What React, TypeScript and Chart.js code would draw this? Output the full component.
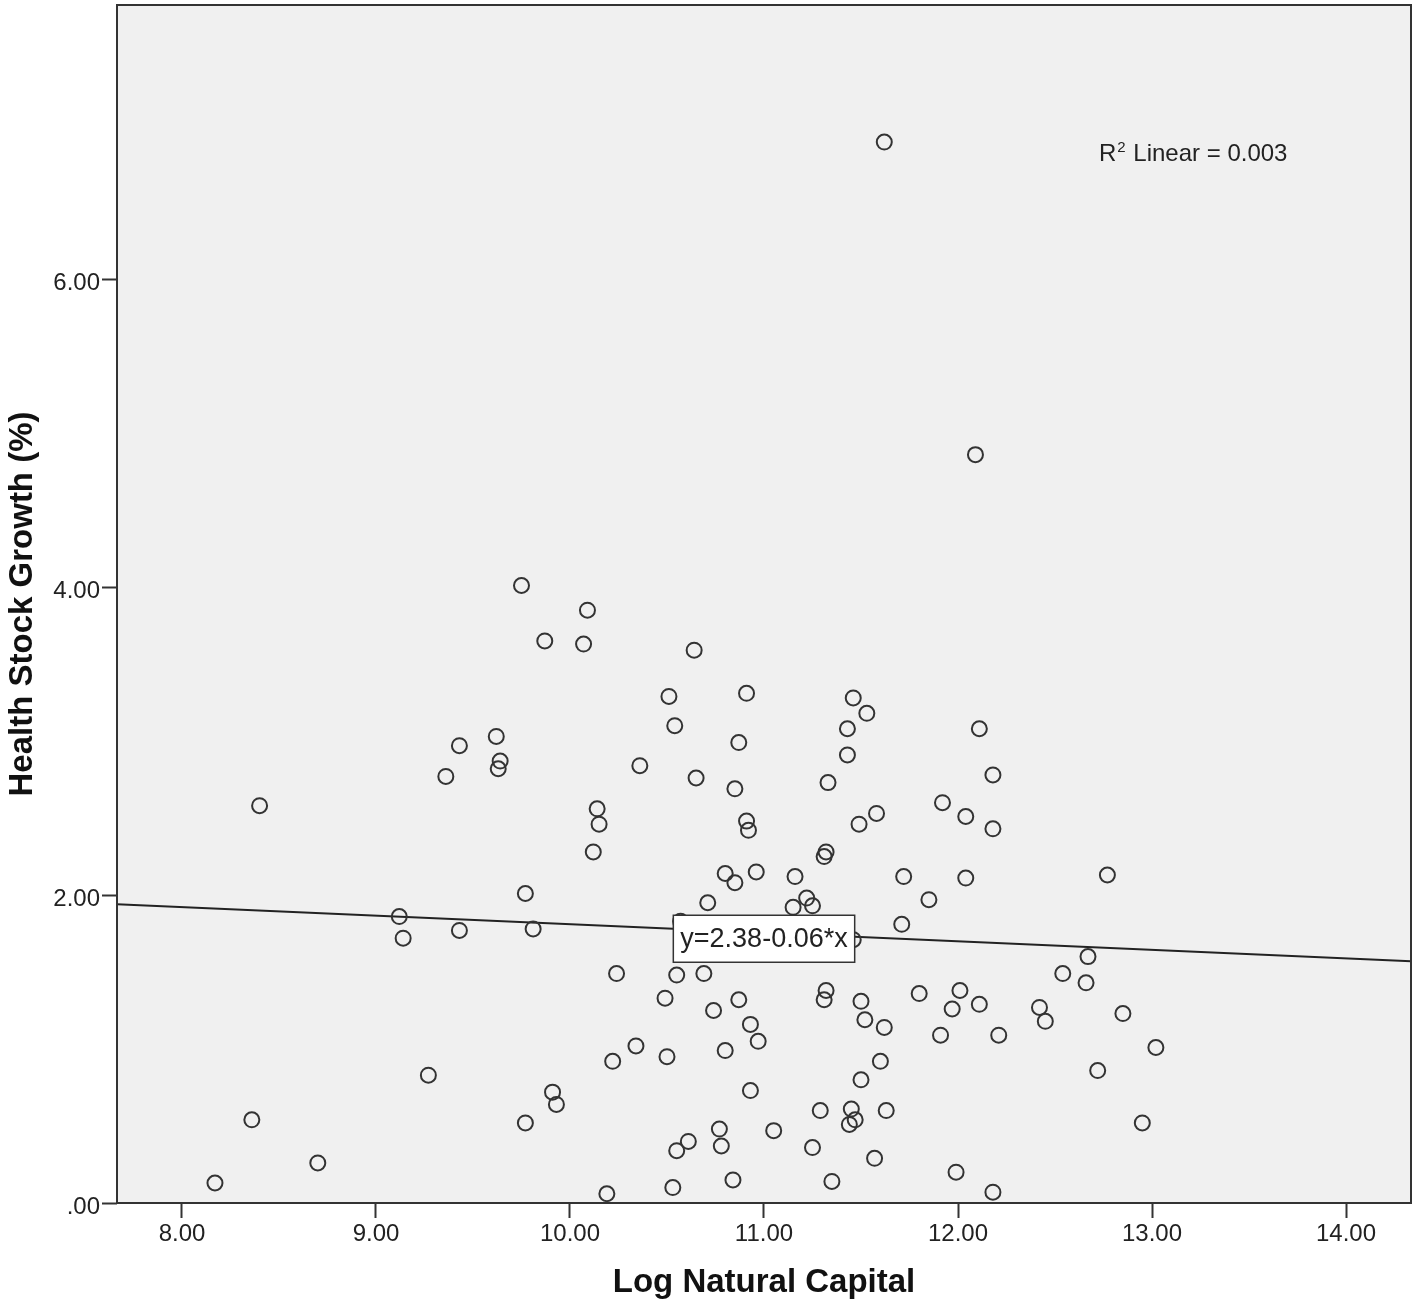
import React, { useEffect, useRef } from "react";
import { Chart, registerables } from "chart.js";

Chart.register(...registerables);

const logNaturalCapital = [
  11.62, 12.09, 9.75, 10.09, 9.87, 10.07, 10.64, 10.51, 10.91, 11.46,
  11.53, 10.54, 11.43, 12.11, 9.62, 9.43, 10.87, 9.64, 9.63, 11.43,
  10.36, 9.36, 10.65, 11.33, 12.18, 10.85, 8.4, 11.92, 10.14, 11.58,
  12.04, 10.91, 11.49, 10.15, 10.92, 12.18, 10.12, 11.32, 11.31, 10.8,
  10.96, 11.16, 11.72, 12.04, 12.77, 10.85, 9.77, 11.85, 11.22, 11.25,
  11.15, 10.71, 9.12, 10.57, 11.71, 9.43, 9.81, 9.14, 11.46, 12.67,
  10.24, 10.55, 10.69, 12.54, 12.66, 11.32, 12.01, 11.8, 10.49, 10.87,
  11.31, 11.5, 12.11, 12.42, 10.74, 12.85, 11.52, 12.45, 10.93, 11.62,
  11.91, 12.21, 10.97, 10.34, 13.02, 10.8, 10.5, 10.22, 11.6, 9.27,
  12.72, 11.5, 9.91, 10.93, 9.93, 11.29, 11.45, 11.63, 8.36, 11.47,
  11.44, 9.77, 12.95, 10.77, 11.05, 10.61, 10.78, 10.55, 11.25, 8.7,
  11.57, 11.99, 8.17, 10.84, 11.35, 10.53, 10.19, 12.18, 11.97,
];

const healthStockGrowth = [
  6.89, 4.86, 4.01, 3.85, 3.65, 3.63, 3.59, 3.29, 3.31, 3.28,
  3.18, 3.1, 3.08, 3.08, 3.03, 2.97, 2.99, 2.87, 2.82, 2.91,
  2.84, 2.77, 2.76, 2.73, 2.78, 2.69, 2.58, 2.6, 2.56, 2.53,
  2.51, 2.48, 2.46, 2.46, 2.42, 2.43, 2.28, 2.28, 2.25, 2.14,
  2.15, 2.12, 2.12, 2.11, 2.13, 2.08, 2.01, 1.97, 1.98, 1.93,
  1.92, 1.95, 1.86, 1.83, 1.81, 1.77, 1.78, 1.72, 1.71, 1.6,
  1.49, 1.48, 1.49, 1.49, 1.43, 1.38, 1.38, 1.36, 1.33, 1.32,
  1.32, 1.31, 1.29, 1.27, 1.25, 1.23, 1.19, 1.18, 1.16, 1.14,
  1.09, 1.09, 1.05, 1.02, 1.01, 0.99, 0.95, 0.92, 0.92, 0.83,
  0.86, 0.8, 0.72, 0.73, 0.64, 0.6, 0.61, 0.6, 0.54, 0.54,
  0.51, 0.52, 0.52, 0.48, 0.47, 0.4, 0.37, 0.34, 0.36, 0.26,
  0.29, 0.2, 0.13, 0.15, 0.14, 0.1, 0.06, 0.07, 1.26,
];

const xTickValues = [8, 9, 10, 11, 12, 13, 14];
const xTickLabels = ["8.00", "9.00", "10.00", "11.00", "12.00", "13.00", "14.00"];
const yTickValues = [0, 2, 4, 6];
const yTickLabels = [".00", "2.00", "4.00", "6.00"];
const xRange = [7.665, 14.335];
const yRange = [0, 7.78];

const fitLineX = [7.665, 14.335];
const fitLineY = [1.94, 1.57];
const fitLabelX = 11.0;
const fitLabel = "y=2.38-0.06*x";
const r2Base = "R";
const r2Sup = "2";
const r2Rest = " Linear = 0.003";

const xTitle = "Log Natural Capital";
const yTitle = "Health Stock Growth (%)";

const FONT = "'Liberation Sans', Arial, sans-serif";
const INK = "#333333";

const framePlugin = {
  id: "spssFrame",
  beforeDraw(chart: any) {
    const { ctx, chartArea: a } = chart;
    ctx.save();
    ctx.fillStyle = "#f0f0f0";
    ctx.fillRect(a.left, a.top, a.right - a.left, a.bottom - a.top);
    ctx.restore();
  },
  afterDraw(chart: any) {
    const { ctx, chartArea: a, scales } = chart;
    ctx.save();
    // frame
    ctx.strokeStyle = INK;
    ctx.lineWidth = 2;
    ctx.strokeRect(a.left, a.top, a.right - a.left, a.bottom - a.top);

    // R² label
    ctx.fillStyle = "#222";
    ctx.textBaseline = "alphabetic";
    ctx.textAlign = "left";
    const rx = a.right - 312;
    const ry = a.top + 156;
    ctx.font = `24px ${FONT}`;
    ctx.fillText(r2Base, rx, ry);
    const wR = ctx.measureText(r2Base).width;
    ctx.font = `15px ${FONT}`;
    ctx.fillText(r2Sup, rx + wR + 1, ry - 9);
    const wS = ctx.measureText(r2Sup).width;
    ctx.font = `24px ${FONT}`;
    ctx.fillText(r2Rest, rx + wR + wS + 2, ry);

    // regression equation box
    const xs = scales.x;
    const ys = scales.y;
    const t = (fitLabelX - fitLineX[0]) / (fitLineX[1] - fitLineX[0]);
    const lineY = fitLineY[0] + t * (fitLineY[1] - fitLineY[0]);
    const cx = xs.getPixelForValue(fitLabelX);
    const cy = ys.getPixelForValue(lineY) + 6;
    ctx.font = `27px ${FONT}`;
    const tw = ctx.measureText(fitLabel).width;
    const bw = tw + 14;
    const bh = 47;
    ctx.fillStyle = "#ffffff";
    ctx.fillRect(cx - bw / 2, cy - bh / 2, bw, bh);
    ctx.strokeStyle = INK;
    ctx.lineWidth = 1.5;
    ctx.strokeRect(cx - bw / 2, cy - bh / 2, bw, bh);
    ctx.fillStyle = "#222";
    ctx.textAlign = "center";
    ctx.textBaseline = "middle";
    ctx.fillText(fitLabel, cx, cy + 1);
    ctx.restore();
  },
};

export default function App() {
  const canvasRef = useRef<HTMLCanvasElement | null>(null);

  useEffect(() => {
    const canvas = canvasRef.current;
    if (!canvas) return;
    const points = logNaturalCapital.map((x, i) => ({ x, y: healthStockGrowth[i] }));
    const fitPoints = fitLineX.map((x, i) => ({ x, y: fitLineY[i] }));

    const chart = new Chart(canvas, {
      type: "scatter",
      data: {
        datasets: [
          {
            label: "Health Stock Growth",
            data: points,
            pointRadius: 7.5,
            pointHoverRadius: 7.5,
            pointBorderWidth: 2,
            borderColor: INK,
            backgroundColor: "rgba(0,0,0,0)",
            pointBackgroundColor: "rgba(0,0,0,0)",
            pointBorderColor: INK,
            showLine: false,
          },
          {
            type: "line",
            label: "Linear fit",
            data: fitPoints,
            showLine: true,
            pointRadius: 0,
            borderColor: "#222",
            borderWidth: 2,
            fill: false,
          } as any,
        ],
      },
      options: {
        animation: false,
        responsive: false,
        devicePixelRatio: 1,
        layout: { autoPadding: false, padding: { left: 0, right: 7, top: 5, bottom: 0 } },
        plugins: {
          legend: { display: false },
          tooltip: { enabled: false },
        },
        scales: {
          x: {
            type: "linear",
            min: xRange[0],
            max: xRange[1],
            afterBuildTicks: (scale: any) => {
              scale.ticks = xTickValues.map((v) => ({ value: v }));
            },
            afterFit: (scale: any) => {
              scale.height = 107;
              scale.paddingLeft = 0;
              scale.paddingRight = 0;
            },
            border: { display: false },
            grid: {
              drawOnChartArea: false,
              drawTicks: true,
              tickLength: 15,
              tickColor: INK,
              tickWidth: 2,
            },
            ticks: {
              padding: 2,
              color: "#222",
              font: { family: FONT, size: 24 },
              callback: (v: any) => {
                const i = xTickValues.indexOf(Number(v));
                return i >= 0 ? xTickLabels[i] : "";
              },
            },
            title: {
              display: true,
              text: xTitle,
              color: "#111",
              font: { family: FONT, size: 33, weight: "bold" },
              padding: { top: 0, bottom: 7 },
            },
          },
          y: {
            type: "linear",
            min: yRange[0],
            max: yRange[1],
            afterBuildTicks: (scale: any) => {
              scale.ticks = yTickValues.map((v) => ({ value: v }));
            },
            afterFit: (scale: any) => {
              scale.width = 117;
              scale.paddingTop = 0;
              scale.paddingBottom = 0;
            },
            border: { display: false },
            grid: {
              drawOnChartArea: false,
              drawTicks: true,
              tickLength: 15,
              tickColor: INK,
              tickWidth: 2,
            },
            ticks: {
              padding: 2,
              labelOffset: 4,
              color: "#222",
              font: { family: FONT, size: 24 },
              callback: (v: any) => {
                const i = yTickValues.indexOf(Number(v));
                return i >= 0 ? yTickLabels[i] : "";
              },
            },
            title: {
              display: true,
              text: yTitle,
              color: "#111",
              font: { family: FONT, size: 33, weight: "bold" },
              padding: { top: 3, bottom: 0 },
            },
          },
        },
      },
      plugins: [framePlugin],
    });

    return () => chart.destroy();
  }, []);

  return (
    <div style={{ position: "absolute", left: 0, top: 0, width: 1418, height: 1310, background: "#ffffff" }}>
      <canvas ref={canvasRef} width={1418} height={1310} style={{ display: "block" }} />
    </div>
  );
}
